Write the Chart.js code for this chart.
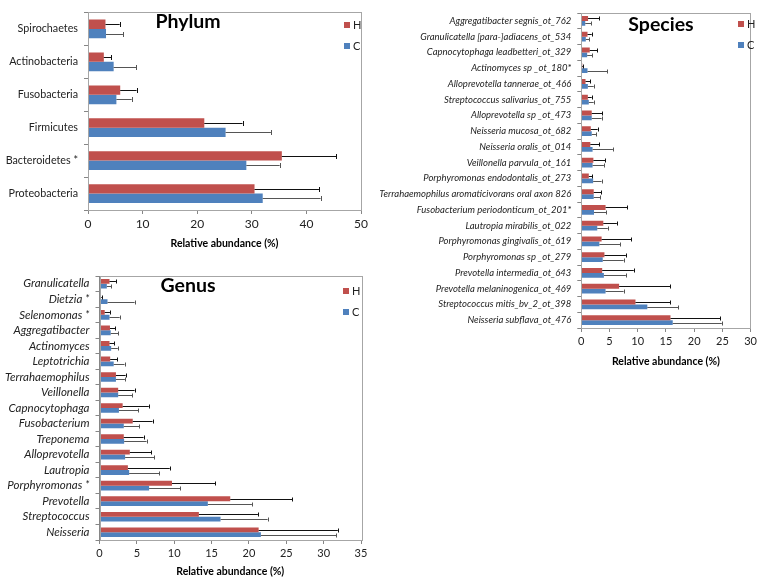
<!DOCTYPE html>
<html>
<head>
<meta charset="utf-8">
<script src="https://cdn.jsdelivr.net/npm/chart.js@4.4.1/dist/chart.umd.min.js"></script>
<style>
  body { margin: 0; background: #fff; width: 760px; height: 578px; overflow: hidden; position: relative; font-family: Lato, sans-serif; }
  .panel { position: absolute; }
  .tag { position: absolute; font: 13px Lato, sans-serif; color: #000; }
</style>
</head>
<body>
<div class="tag" style="left:2px;top:-2px;">a</div>
<div class="tag" style="left:2px;top:260px;">b</div>
<div class="tag" style="left:383px;top:-2px;">c</div>
<div class="panel" style="left:0;top:0;width:380px;height:252px;"><canvas id="chartA"></canvas></div>
<div class="panel" style="left:0;top:262px;width:380px;height:316px;"><canvas id="chartB"></canvas></div>
<div class="panel" style="left:380px;top:0;width:380px;height:368px;"><canvas id="chartC"></canvas></div>
<script>
// panel a - phylum
var phylumNames = ["Spirochaetes", "Actinobacteria", "Fusobacteria", "Firmicutes", "Bacteroidetes *", "Proteobacteria"];
var phylumH    = [3.2, 2.9, 5.9, 21.3, 35.5, 30.5];
var phylumHErr = [2.6, 1.4, 3.0, 7.0, 10.0, 11.8];
var phylumC    = [3.3, 4.7, 5.2, 25.2, 29.0, 32.0];
var phylumCErr = [3.1, 4.1, 2.8, 8.3, 6.1, 10.6];

// panel b - genus
var genusNames = ["Granulicatella", "Dietzia *", "Selenomonas *", "Aggregatibacter", "Actinomyces", "Leptotrichia",
  "Terrahaemophilus", "Veillonella", "Capnocytophaga", "Fusobacterium", "Treponema", "Alloprevotella",
  "Lautropia", "Porphyromonas *", "Prevotella", "Streptococcus", "Neisseria"];
var genusH    = [1.34, 0.18, 0.7, 1.4, 1.34, 1.43, 2.2, 2.5, 3.1, 4.45, 3.25, 4.06, 3.8, 9.7, 17.5, 13.3, 21.3];
var genusHErr = [0.86, 0.12, 0.7, 0.7, 0.66, 0.97, 1.3, 2.2, 3.5, 2.65, 2.65, 2.84, 5.6, 5.8, 8.3, 7.9, 10.6];
var genusC    = [0.98, 1.07, 1.34, 1.5, 1.56, 1.9, 2.2, 2.5, 2.6, 3.25, 3.3, 3.43, 3.97, 6.64, 14.5, 16.2, 21.6];
var genusCErr = [0.62, 3.63, 1.36, 1.0, 0.89, 1.45, 1.2, 1.9, 2.6, 2.1, 3.0, 3.87, 4.03, 4.16, 5.9, 6.3, 10.1];

// panel c - species
var speciesNames = ["Aggregatibacter segnis_ot_762", "Granulicatella [para-]adiacens_ot_534", "Capnocytophaga leadbetteri_ot_329",
  "Actinomyces sp _ot_180*", "Alloprevotella tannerae_ot_466", "Streptococcus salivarius_ot_755", "Alloprevotella sp _ot_473",
  "Neisseria mucosa_ot_682", "Neisseria oralis_ot_014", "Veillonella parvula_ot_161", "Porphyromonas endodontalis_ot_273",
  "Terrahaemophilus aromaticivorans oral axon 826", "Fusobacterium periodonticum_ot_201*", "Lautropia mirabilis_ot_022",
  "Porphyromonas gingivalis_ot_619", "Porphyromonas sp _ot_279", "Prevotella intermedia_ot_643",
  "Prevotella melaninogenica_ot_469", "Streptococcus mitis_bv_2_ot_398", "Neisseria subflava_ot_476"];
var speciesH    = [1.2, 1.1, 1.5, 0.17, 0.75, 1.16, 1.85, 1.68, 1.6, 2.14, 1.33, 2.2, 4.3, 3.9, 3.6, 4.1, 3.7, 6.7, 9.6, 15.8];
var speciesHErr = [2.0, 0.75, 1.3, 0.13, 0.81, 0.69, 1.85, 1.22, 1.6, 2.06, 0.57, 1.3, 3.85, 2.4, 5.25, 3.8, 5.6, 9.1, 6.2, 8.8];
var speciesC    = [0.7, 0.8, 1.04, 1.1, 1.16, 1.33, 1.85, 1.85, 2.0, 2.0, 2.1, 2.2, 2.25, 2.83, 3.2, 3.8, 4.0, 4.3, 11.7, 16.2];
var speciesCErr = [1.1, 0.6, 0.86, 3.5, 1.04, 0.87, 1.75, 0.75, 3.6, 2.0, 1.5, 1.2, 2.2, 1.87, 3.7, 3.7, 3.9, 3.2, 5.5, 8.7];

var red = "#C0504D", blue = "#4F81BD";

// error bars (plus side only) drawn off the x scale
var errorBars = {
  id: "errorBars",
  afterDatasetsDraw: function(chart, args, opts) {
    var ctx = chart.ctx, xs = chart.scales.x;
    ctx.save();
    chart.data.datasets.forEach(function(ds, i) {
      var meta = chart.getDatasetMeta(i);
      ctx.strokeStyle = ds.errColor;
      ctx.lineWidth = 1;
      meta.data.forEach(function(bar, j) {
        var x0 = xs.getPixelForValue(ds.data[j]);
        var x1 = xs.getPixelForValue(ds.data[j] + ds.errors[j]);
        var y = Math.round(bar.y) + 0.5;
        ctx.beginPath();
        ctx.moveTo(x0, y);
        ctx.lineTo(x1, y);
        ctx.moveTo(Math.round(x1) + 0.5, y - opts.cap);
        ctx.lineTo(Math.round(x1) + 0.5, y + opts.cap);
        ctx.stroke();
      });
    });
    ctx.restore();
  }
};

// plot border, big title and the little legend
var deco = {
  id: "deco",
  beforeDraw: function(chart) {
    var ctx = chart.ctx;
    ctx.save();
    ctx.fillStyle = "#fff";
    ctx.fillRect(0, 0, chart.width, chart.height);
    ctx.restore();
  },
  afterDraw: function(chart, args, o) {
    var ctx = chart.ctx, a = chart.chartArea;
    ctx.save();
    ctx.strokeStyle = "#A6A6A6";
    ctx.lineWidth = 1;
    ctx.strokeRect(Math.round(a.left) + 0.5, Math.round(a.top) + 0.5, Math.round(a.right - a.left), Math.round(a.bottom - a.top));
    ctx.fillStyle = "#000";
    ctx.font = "bold 19.5px Lato";
    ctx.textAlign = "center";
    ctx.textBaseline = "alphabetic";
    ctx.fillText(o.title, o.titleX, o.titleY);
    ctx.font = "11px Lato";
    ctx.textAlign = "left";
    ctx.textBaseline = "middle";
    [["H", red, o.legY], ["C", blue, o.legY + 21]].forEach(function(it) {
      ctx.fillStyle = it[1];
      ctx.fillRect(o.legX, it[2] - 3, 6, 6);
      ctx.fillStyle = "#222";
      ctx.fillText(it[0], o.legX + 9, it[2]);
    });
    ctx.restore();
  }
};

function makeChart(id, names, h, hErr, c, cErr, cfg) {
  return new Chart(document.getElementById(id), {
    type: "bar",
    data: {
      labels: names,
      datasets: [
        { label: "H", data: h, errors: hErr, errColor: "#111", backgroundColor: red, barPercentage: 1.0, categoryPercentage: cfg.catPct },
        { label: "C", data: c, errors: cErr, errColor: "#555", backgroundColor: blue, barPercentage: 1.0, categoryPercentage: cfg.catPct }
      ]
    },
    options: {
      indexAxis: "y",
      responsive: true,
      maintainAspectRatio: false,
      animation: false,
      layout: { padding: { top: cfg.top, right: cfg.right, left: 0, bottom: 0 } },
      plugins: {
        legend: { display: false },
        tooltip: { enabled: false },
        errorBars: { cap: cfg.cap },
        deco: { title: cfg.title, titleX: cfg.titleX, titleY: cfg.titleY, legX: cfg.legX, legY: cfg.legY }
      },
      scales: {
        x: {
          min: 0, max: cfg.max,
          ticks: { stepSize: cfg.step, color: "#222", font: { family: "Lato", size: cfg.tickSize }, padding: 3 },
          grid: { drawOnChartArea: false, tickLength: 4, color: "#868686" },
          border: { color: "#868686" },
          title: { display: true, text: "Relative abundance (%)", color: "#000", font: { family: "Lato", size: 10.5, weight: "bold" }, padding: { top: 2, bottom: cfg.titlePad } },
          afterFit: function(s) { s.height = cfg.xh; }
        },
        y: {
          ticks: { color: "#222", font: { family: "Lato", size: cfg.labelSize, style: cfg.italic ? "italic" : "normal" }, padding: 6, autoSkip: false },
          grid: { drawOnChartArea: false, tickLength: 4, color: "#868686", offset: true },
          border: { color: "#868686" },
          afterFit: function(s) { s.width = cfg.yw; }
        }
      }
    },
    plugins: [errorBars, deco]
  });
}

makeChart("chartA", phylumNames, phylumH, phylumHErr, phylumC, phylumCErr,
  { catPct: 0.57, cap: 2.5, top: 12, right: 19, xh: 42, yw: 88, max: 50, step: 10, tickSize: 12, labelSize: 10.75, italic: false,
    titlePad: 2, title: "Phylum", titleX: 188, titleY: 28, legX: 344, legY: 25 });
makeChart("chartB", genusNames, genusH, genusHErr, genusC, genusCErr,
  { catPct: 0.62, cap: 2, top: 14, right: 19, xh: 38, yw: 99.5, max: 35, step: 5, tickSize: 11, labelSize: 11.5, italic: true,
    titlePad: 0, title: "Genus", titleX: 188, titleY: 30, legX: 343, legY: 29 });
makeChart("chartC", speciesNames, speciesH, speciesHErr, speciesC, speciesCErr,
  { catPct: 0.62, cap: 2, top: 13, right: 0, xh: 40, yw: 201.3, max: 30, step: 5, tickSize: 11, labelSize: 9.5, italic: true,
    titlePad: 0, title: "Species", titleX: 281, titleY: 30.5, legX: 358, legY: 24 });
</script>
</body>
</html>
